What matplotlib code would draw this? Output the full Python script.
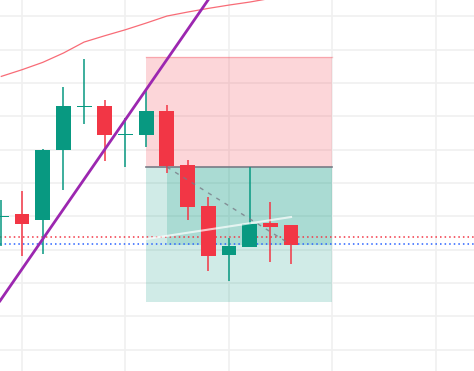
import numpy as np
import matplotlib
matplotlib.use("Agg")
import matplotlib.pyplot as plt

# OHLC de cada vela
opens  = [119.9, 120.35, 119.5, 130.0, 136.4, 136.55, 132.2, 132.25, 135.8, 127.7, 121.55, 114.2, 115.4, 119.0, 118.7]
highs  = [122.5, 123.8, 130.1, 139.4, 143.6, 137.45, 134.7, 139.05, 136.7, 128.45, 122.9, 116.75, 127.4, 122.15, 118.7]
lows   = [115.6, 114.1, 114.3, 124.0, 133.9, 128.35, 127.45, 130.45, 126.5, 119.5, 111.85, 110.35, 115.4, 113.15, 112.85]
closes = [120.0, 118.9, 130.0, 136.6, 136.6, 132.2, 132.4, 135.8, 127.6, 121.45, 114.05, 115.55, 118.85, 118.4, 115.75]

# Media móvil
ma_values = [141.0, 142.0, 143.1, 144.5, 146.15, 147.1, 148.0, 149.0, 150.05, 150.65, 151.2, 151.7, 152.15, 152.7]

# Herramienta de posición larga
pos_start, pos_end = 7, 16
stop_price = 143.9
entry_price = 127.4
target_price = 107.2
progress_start = 8

# Niveles horizontales punteados
red_level = 116.85
blue_level = 115.8

# Línea de tendencia (dos anclas) y línea blanca
trend_pts = [(0, 107.6), (10, 152.5)]
white_x = [7, 14]
white_y = [116.6, 119.9]

GREEN = "#089981"
RED = "#f23645"

fig = plt.figure(figsize=(4.74, 3.71), dpi=100)
ax = fig.add_axes([0, 0, 1, 1])
ax.set_xlim(-0.063, 22.84)
ax.set_ylim(96.8, 152.46)
ax.axis("off")

# Rejilla
for gx in range(1, 23, 5):
    ax.axvline(gx, color="#f0f0f0", lw=1.2, zorder=0)
for gy in range(100, 155, 5):
    ax.axhline(gy, color="#f0f0f0", lw=1.2, zorder=0)

# Zonas de la posición
ax.fill_between([pos_start, pos_end], entry_price, stop_price, color=RED, alpha=0.2, lw=0, zorder=1)
ax.plot([pos_start, pos_end], [stop_price, stop_price], color=RED, alpha=0.3, lw=1, zorder=1)
ax.fill_between([pos_start, pos_end], target_price, entry_price, color=GREEN, alpha=0.19, lw=0, zorder=1)
ax.fill_between([progress_start, pos_end], closes[-1], entry_price, color=GREEN, alpha=0.19, lw=0, zorder=1)
ax.plot([pos_start, pos_end], [entry_price, entry_price], color="#787b86", lw=1.2, zorder=2)

# Media móvil
ax.plot(range(len(ma_values)), ma_values, color="#f7525f", lw=0.9, alpha=0.85, zorder=2)

# Niveles punteados
ax.axhline(red_level, color=RED, lw=1.1, ls=(0, (1, 2)), zorder=3)
ax.axhline(blue_level, color="#2962ff", lw=1.1, ls=(0, (1, 2)), zorder=3)

# Velas
idx = np.arange(len(opens))
colors = [GREEN if c >= o else RED for o, c in zip(opens, closes)]
ax.vlines(idx, lows, highs, colors=colors, lw=1.1, zorder=4)
bottoms = np.minimum(opens, closes)
heights = np.maximum(np.abs(np.array(closes) - np.array(opens)), 0.22)
ax.bar(idx, heights, bottom=bottoms, width=0.72, color=colors, lw=0, zorder=5)

# Línea discontinua de progreso y línea blanca
ax.plot([progress_start, idx[-1]], [entry_price, closes[-1]], color="#787b86", lw=1, ls=(0, (3, 4)), alpha=0.8, zorder=6)
ax.plot(white_x, white_y, color="white", lw=1.5, alpha=0.7, zorder=6)

# Línea de tendencia
ax.axline(trend_pts[0], trend_pts[1], color="#9c27b0", lw=2, zorder=7)

fig.savefig("out.png", dpi=100)
